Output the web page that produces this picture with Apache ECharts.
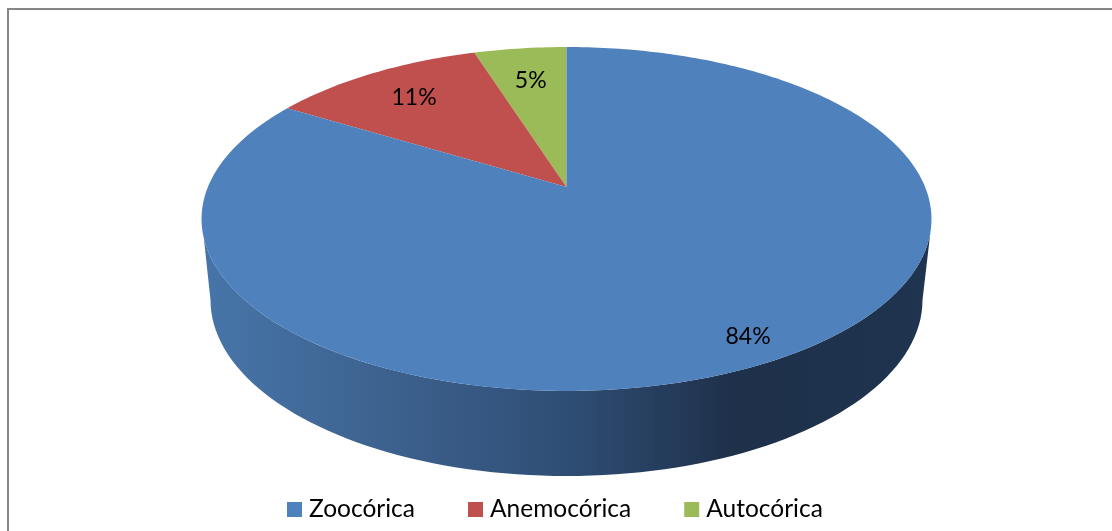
<!DOCTYPE html>
<html><head><meta charset="utf-8">
<style>html,body{margin:0;padding:0;background:#fff}#c{width:1112px;height:531px}</style>
<script src="https://cdn.jsdelivr.net/npm/echarts@6/dist/echarts.min.js"></script>
</head><body><div id="c"></div>
<script>
const categories = ['Zoocórica', 'Anemocórica', 'Autocórica'];
const values = [83.7, 11.4, 4.9];
const colors = ['#4f81bd', '#c0504d', '#9bbb59'];
const labelRadius = [0.885, 0.765, 0.74];

const total = values.reduce((a, b) => a + b, 0);
const TIP_X = 566.5, TIP_Y = 187, RX = 358.6, RY = 166, K = -0.186;
function project(r, deg) {
  const t = deg * Math.PI / 180;
  const u = r * Math.sin(t), v = -r * Math.cos(t);
  const w = 1 + K * v;
  return [TIP_X + RX * u / w, TIP_Y + RY * v / w];
}
function wallPoints() {
  const pts = [];
  // front arc of the top face, right to left
  for (let d = 105; d <= 253; d += 2) pts.push(project(1, d));
  // lower rim, left to right
  const cx = 566.5, cy = 300, rx = 356, ry = 176;
  for (let a = 180; a >= 0; a -= 2) {
    const t = a * Math.PI / 180;
    pts.push([cx + rx * Math.cos(t), cy + ry * Math.sin(t)]);
  }
  return pts;
}
function renderSlice(i) {
  return function (params, api) {
    const val = api.value(0);
    let before = 0;
    for (let j = 0; j < i; j++) before += values[j];
    const a0 = before / total * 360, a1 = (before + val) / total * 360;
    const pts = [project(0, 0)];
    for (let d = a0; d < a1; d += 1) pts.push(project(1, d));
    pts.push(project(1, a1));
    const children = [];
    if (i === 0) {
      children.push({
        type: 'polygon', shape: { points: wallPoints() },
        style: {
          fill: new echarts.graphic.LinearGradient(201, 0, 932, 0, [
            { offset: 0, color: '#4775a9' },
            { offset: 0.25, color: '#3d628f' },
            { offset: 0.5, color: '#2f4e75' },
            { offset: 0.73, color: '#1e304a' },
            { offset: 1, color: '#1f344f' }
          ], true)
        }
      });
    }
    children.push({ type: 'polygon', shape: { points: pts }, style: { fill: colors[i] } });
    const lp = project(labelRadius[i], (a0 + a1) / 2);
    children.push({
      type: 'text', x: lp[0], y: lp[1],
      style: { text: Math.round(val / total * 100) + '%', fill: '#000', font: '23px Lato', align: 'center', verticalAlign: 'middle' }
    });
    return { type: 'group', children };
  };
}
const chart = echarts.init(document.getElementById('c'), null, { renderer: 'canvas' });
chart.setOption({
  animation: false,
  backgroundColor: '#fff',
  color: colors,
  legend: {
    data: categories, left: 282, top: 492, icon: 'rect', itemWidth: 15, itemHeight: 15, itemGap: 53,
    textStyle: { fontFamily: 'Lato', fontSize: 24.5, color: '#000', padding: [0, 0, 0, 2] }
  },
  graphic: [{
    type: 'rect', shape: { x: 8, y: 9, width: 1200, height: 700 }, silent: true,
    style: { fill: 'none', stroke: '#868686', lineWidth: 2 }
  }],
  series: categories.map((name, i) => ({
    type: 'custom', name, coordinateSystem: 'none', silent: true,
    itemStyle: { color: colors[i] },
    z: 5 - i,
    data: [[values[i]]],
    renderItem: renderSlice(i)
  }))
});
</script></body></html>
